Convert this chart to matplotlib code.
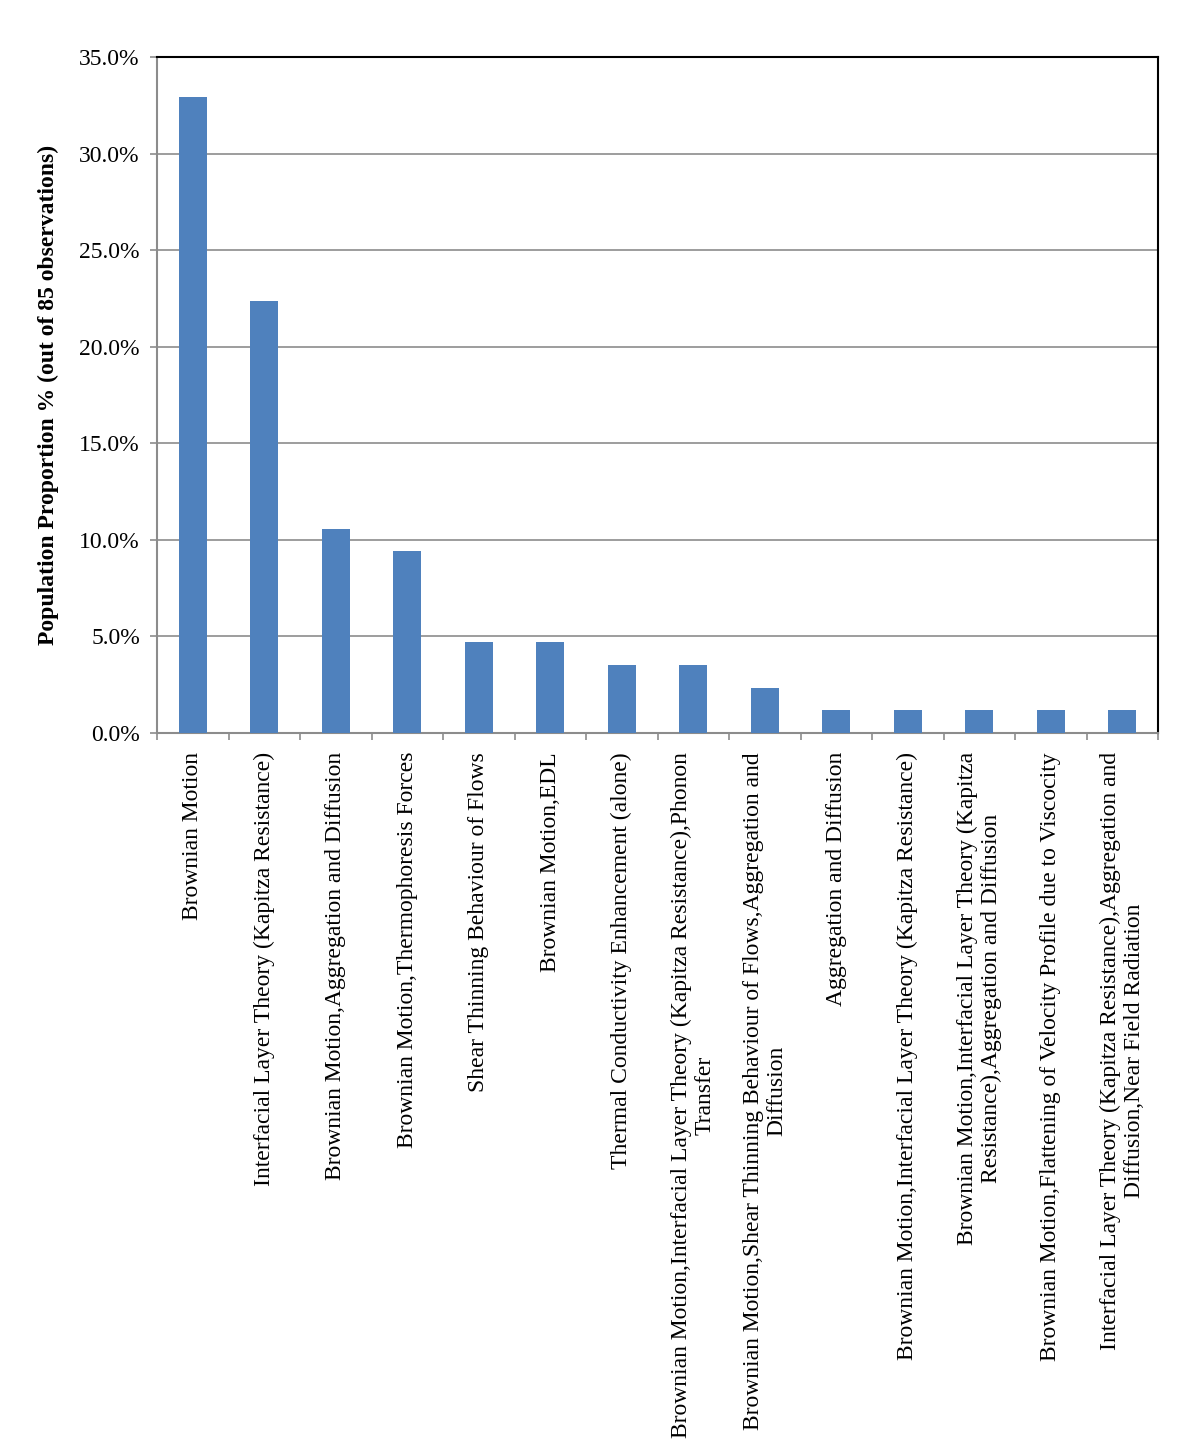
import matplotlib
matplotlib.use("Agg")
import matplotlib.pyplot as plt
from matplotlib.ticker import FuncFormatter, MultipleLocator

categories = [
    "Brownian Motion",
    "Interfacial Layer Theory (Kapitza Resistance)",
    "Brownian Motion,Aggregation and Diffusion",
    "Brownian Motion,Thermophoresis Forces",
    "Shear Thinning Behaviour of Flows",
    "Brownian Motion,EDL",
    "Thermal Conductivity Enhancement (alone)",
    "Brownian Motion,Interfacial Layer Theory (Kapitza Resistance),Phonon\nTransfer",
    "Brownian Motion,Shear Thinning Behaviour of Flows,Aggregation and\nDiffusion",
    "Aggregation and Diffusion",
    "Brownian Motion,Interfacial Layer Theory (Kapitza Resistance)",
    "Brownian Motion,Interfacial Layer Theory (Kapitza\nResistance),Aggregation and Diffusion",
    "Brownian Motion,Flattening of Velocity Profile due to Viscocity",
    "Interfacial Layer Theory (Kapitza Resistance),Aggregation and\nDiffusion,Near Field Radiation",
]
counts = [28, 19, 9, 8, 4, 4, 3, 3, 2, 1, 1, 1, 1, 1]
total = 85
values = [c / total * 100 for c in counts]
ylabel = "Population Proportion % (out of 85 observations)"

plt.rcParams['font.family'] = ['Liberation Serif', 'DejaVu Serif']

fig = plt.figure(figsize=(12, 14.45), dpi=100)
ax = fig.add_axes([0.131, 0.4927, 0.834, 0.4679])

x = list(range(len(categories)))
ax.bar(x, values, width=0.39, color='#4F81BD', zorder=3)

ax.set_xlim(-0.5, len(categories) - 0.5)
ax.set_ylim(0, 35)
ax.yaxis.set_major_locator(MultipleLocator(5))
ax.yaxis.set_major_formatter(FuncFormatter(lambda v, p: f"{v:.1f}%"))
ax.grid(axis='y', color='#8C8C8C', linewidth=1.2, zorder=0)

for s in ['left', 'bottom']:
    ax.spines[s].set_color('#8C8C8C')
    ax.spines[s].set_linewidth(1.5)
for s in ['top', 'right']:
    ax.spines[s].set_color('black')
    ax.spines[s].set_linewidth(1.5)

ax.tick_params(axis='y', direction='out', length=5, width=1.2, color='#8C8C8C',
               labelsize=17, pad=7.5)
ax.set_xticks([i - 0.5 for i in range(len(categories) + 1)], minor=False)
ax.set_xticklabels([])
ax.tick_params(axis='x', direction='out', length=5, width=1.2, color='#8C8C8C')

for i, lab in enumerate(categories):
    ax.text(i, -0.028, lab, transform=ax.get_xaxis_transform(), rotation=90,
            ha='center', va='top', multialignment='center', fontsize=17,
            linespacing=1.15)

ax.set_ylabel(ylabel, fontsize=17, fontweight='bold', va='center')
ax.yaxis.set_label_coords(-0.109, 0.5)

fig.savefig("out.png", dpi=100)
